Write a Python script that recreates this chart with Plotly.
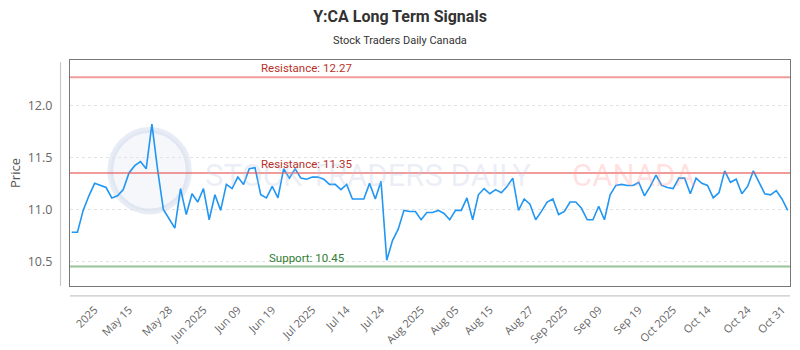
import pandas as pd
import plotly.graph_objects as go

# ---------------- data ----------------
holidays = ["2025-05-19", "2025-07-01", "2025-08-04", "2025-09-01", "2025-10-13"]
dates = [d.strftime("%Y-%m-%d") for d in pd.bdate_range("2025-05-02", "2025-10-31")
         if d.strftime("%Y-%m-%d") not in holidays]

prices = [
    10.78, 10.78, 10.99, 11.13, 11.25, 11.23, 11.21, 11.11, 11.13, 11.19,
    11.35, 11.42, 11.46, 11.39, 11.82, 11.38, 11.00, 10.91, 10.82, 11.20,
    10.95, 11.15, 11.07, 11.20, 10.90, 11.14, 10.99, 11.24, 11.20, 11.31,
    11.24, 11.39, 11.40, 11.14, 11.11, 11.22, 11.11, 11.39, 11.30, 11.39,
    11.30, 11.29, 11.31, 11.31, 11.29, 11.24, 11.24, 11.19, 11.24, 11.10,
    11.10, 11.10, 11.25, 11.10, 11.27, 10.51, 10.70, 10.81, 10.99, 10.98,
    10.98, 10.90, 10.97, 10.97, 10.99, 10.96, 10.90, 10.99, 10.99, 11.11,
    10.90, 11.14, 11.20, 11.15, 11.19, 11.16, 11.22, 11.30, 10.99, 11.10,
    11.05, 10.90, 10.98, 11.07, 11.10, 10.95, 10.98, 11.07, 11.07, 11.01,
    10.90, 10.90, 11.03, 10.90, 11.14, 11.23, 11.24, 11.23, 11.23, 11.26,
    11.13, 11.22, 11.33, 11.23, 11.21, 11.20, 11.30, 11.30, 11.15, 11.30,
    11.25, 11.23, 11.11, 11.16, 11.37, 11.26, 11.29, 11.15, 11.22, 11.37,
    11.26, 11.15, 11.14, 11.18, 11.10, 10.99,
]
dates = dates[:len(prices)]

resistance_levels = [12.27, 11.35]
support_levels = [10.45]

tick_index = [4, 10, 17, 23, 29, 35, 42, 48, 54, 61, 67, 73, 80, 86, 92, 99, 105, 111, 118, 124]
tick_labels = ["2025", "May 15", "May 28", "Jun 2025", "Jun 09", "Jun 19", "Jul 2025",
               "Jul 14", "Jul 24", "Aug 2025", "Aug 05", "Aug 15", "Aug 27", "Sep 2025",
               "Sep 09", "Sep 19", "Oct 2025", "Oct 14", "Oct 24", "Oct 31"]

y_ticks = [10.5, 11.0, 11.5, 12.0]

# ---------------- figure ----------------
fig = go.Figure()

fig.add_trace(go.Scatter(
    x=dates, y=prices, mode="lines",
    line=dict(color="#2196f3", width=1.6),
    hoverinfo="x+y", showlegend=False,
))

shapes = []
annotations = []

# watermark
shapes.append(dict(type="circle", xref="paper", yref="paper",
                   x0=0.056, x1=0.165, y0=0.33, y1=0.69,
                   line=dict(color="rgba(190,200,225,0.35)", width=6),
                   fillcolor="rgba(215,222,240,0.25)", layer="below"))
annotations.append(dict(text="STOCK TRADERS DAILY", xref="paper", yref="paper",
                        x=0.185, y=0.49, xanchor="left", yanchor="middle", showarrow=False,
                        font=dict(family="Roboto", size=31, color="rgba(185,198,225,0.28)")))
annotations.append(dict(text="CANADA", xref="paper", yref="paper",
                        x=0.695, y=0.49, xanchor="left", yanchor="middle", showarrow=False,
                        font=dict(family="Roboto", size=31, color="rgba(255,150,150,0.28)")))

for lvl in resistance_levels:
    shapes.append(dict(type="line", xref="paper", yref="y", x0=0, x1=1, y0=lvl, y1=lvl,
                       line=dict(color="rgba(232,90,90,0.6)", width=2)))
    annotations.append(dict(text=f"Resistance: {lvl:.2f}", xref="paper", yref="y",
                            x=0.329, y=lvl, yanchor="bottom", xanchor="center", yshift=0,
                            showarrow=False,
                            font=dict(family="Roboto", size=11.5, color="#b8322a")))
for lvl in support_levels:
    shapes.append(dict(type="line", xref="paper", yref="y", x0=0, x1=1, y0=lvl, y1=lvl,
                       line=dict(color="rgba(110,170,110,0.7)", width=2)))
    annotations.append(dict(text=f"Support: {lvl:.2f}", xref="paper", yref="y",
                            x=0.329, y=lvl, yanchor="bottom", xanchor="center", yshift=0,
                            showarrow=False,
                            font=dict(family="Roboto", size=11.5, color="#2e7d32")))

# outer light axis lines
shapes.append(dict(type="line", xref="paper", yref="paper", x0=-0.0132, x1=-0.0132,
                   y0=0.0, y1=0.99, line=dict(color="#c8c8c8", width=1.2)))
shapes.append(dict(type="line", xref="paper", yref="paper", x0=0, x1=1,
                   y0=-0.044, y1=-0.044, line=dict(color="#c8c8c8", width=1.2)))

annotations.append(dict(text="Stock Traders Daily Canada", xref="paper", yref="paper",
                        x=(400 - 70) / 720, y=1, yshift=20, xanchor="center", yanchor="middle",
                        showarrow=False,
                        font=dict(family="Roboto", size=11, color="#333")))

fig.update_layout(
    width=800, height=350,
    margin=dict(l=70, r=10, t=60, b=64),
    paper_bgcolor="white", plot_bgcolor="white",
    title=dict(text="<b>Y:CA Long Term Signals</b>", x=0.5, xanchor="center",
               y=1 - 16 / 350, yanchor="middle", yref="container",
               font=dict(family="Roboto", size=16, color="#333")),
    shapes=shapes, annotations=annotations,
    xaxis=dict(
        type="category", range=[-0.3, 125.4], automargin=False,
        tickmode="array", tickvals=[dates[i] for i in tick_index], ticktext=tick_labels,
        tickangle=-45, showgrid=False, zeroline=False,
        showline=True, mirror=True, linecolor="#777", linewidth=1.2,
        ticks="", ticklabelstandoff=12,
        tickfont=dict(family="Open Sans", size=11, color="#666"),
    ),
    yaxis=dict(
        range=[10.263, 12.436], tickvals=y_ticks, ticktext=[f"{v:.1f}" for v in y_ticks],
        automargin=False,
        showgrid=True, gridcolor="#e3e3e3", griddash="dot", gridwidth=1,
        zeroline=False, showline=True, mirror=True, linecolor="#777", linewidth=1.2,
        ticks="", ticklabelstandoff=14,
        tickfont=dict(family="Open Sans", size=12.5, color="#666"),
        title=dict(text="Price", standoff=4,
                   font=dict(family="Open Sans", size=13, color="#555")),
    ),
)

fig.write_html("out.html")
